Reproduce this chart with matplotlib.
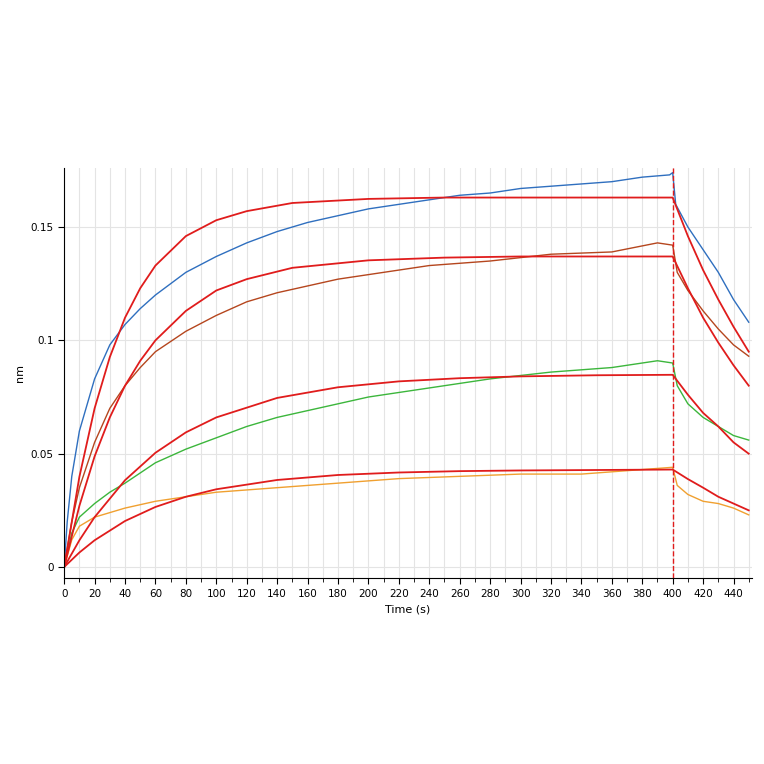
import matplotlib
matplotlib.use("Agg")
import matplotlib.pyplot as plt
from matplotlib.ticker import MultipleLocator, FixedLocator

# fitted curves (time, response)
fit_t = [0, 10, 20, 30, 40, 50, 60, 80, 100, 120, 150, 200, 250, 300, 400, 410, 420, 430, 440, 450]
fit_blue = [0, 0.0398, 0.070, 0.0926, 0.110, 0.123, 0.133, 0.146, 0.153, 0.157, 0.1606, 0.1624, 0.163, 0.163, 0.163, 0.146, 0.131, 0.118, 0.106, 0.095]
fit_brown = [0, 0.027, 0.0488, 0.066, 0.080, 0.091, 0.100, 0.113, 0.122, 0.127, 0.132, 0.1353, 0.1365, 0.137, 0.137, 0.123, 0.110, 0.099, 0.089, 0.080]
fit_t2 = [0, 10, 20, 40, 60, 80, 100, 140, 180, 220, 260, 300, 350, 400, 410, 420, 430, 440, 450]
fit_green = [0, 0.0118, 0.022, 0.0383, 0.0504, 0.0594, 0.066, 0.0746, 0.0793, 0.0819, 0.0833, 0.0841, 0.0846, 0.0848, 0.076, 0.068, 0.062, 0.055, 0.050]
fit_orange = [0, 0.0064, 0.0118, 0.0203, 0.0265, 0.031, 0.0343, 0.0384, 0.0406, 0.0417, 0.0423, 0.0426, 0.0428, 0.043, 0.0388, 0.035, 0.031, 0.028, 0.025]

# measured traces
blue_t = [0, 2, 5, 10, 20, 30, 40, 50, 60, 80, 100, 120, 140, 160, 180, 200, 220, 240, 260, 280, 300, 320, 340, 360, 380, 398, 400, 402, 410, 420, 430, 440, 450]
blue_y = [0, 0.02, 0.04, 0.06, 0.083, 0.098, 0.107, 0.114, 0.12, 0.130, 0.137, 0.143, 0.148, 0.152, 0.155, 0.158, 0.160, 0.162, 0.164, 0.165, 0.167, 0.168, 0.169, 0.170, 0.172, 0.173, 0.174, 0.160, 0.150, 0.140, 0.130, 0.118, 0.108]
brown_t = [0, 5, 10, 20, 30, 40, 50, 60, 80, 100, 120, 140, 160, 180, 200, 240, 280, 320, 360, 390, 400, 403, 410, 420, 430, 440, 450]
brown_y = [0, 0.02, 0.035, 0.055, 0.070, 0.080, 0.088, 0.095, 0.104, 0.111, 0.117, 0.121, 0.124, 0.127, 0.129, 0.133, 0.135, 0.138, 0.139, 0.143, 0.142, 0.130, 0.122, 0.113, 0.105, 0.098, 0.093]
green_t = [0, 5, 10, 20, 30, 40, 60, 80, 100, 120, 140, 160, 180, 200, 240, 280, 320, 360, 390, 400, 403, 410, 420, 430, 440, 450]
green_y = [0, 0.015, 0.022, 0.028, 0.033, 0.037, 0.046, 0.052, 0.057, 0.062, 0.066, 0.069, 0.072, 0.075, 0.079, 0.083, 0.086, 0.088, 0.091, 0.090, 0.080, 0.072, 0.066, 0.062, 0.058, 0.056]
orange_t = [0, 5, 10, 20, 40, 60, 80, 100, 140, 180, 220, 260, 300, 340, 380, 400, 403, 410, 420, 430, 440, 450]
orange_y = [0, 0.012, 0.018, 0.022, 0.026, 0.029, 0.031, 0.033, 0.035, 0.037, 0.039, 0.040, 0.041, 0.041, 0.043, 0.044, 0.036, 0.032, 0.029, 0.028, 0.026, 0.023]

fig = plt.figure(figsize=(7.64, 7.64), dpi=100)
ax = fig.add_axes([0.084, 0.243, 0.900, 0.537])
ax.plot(blue_t, blue_y, color="#2f6fbf", lw=1)
ax.plot(brown_t, brown_y, color="#b5461e", lw=1)
ax.plot(green_t, green_y, color="#3cb63c", lw=1)
ax.plot(orange_t, orange_y, color="#f0a030", lw=1)
for fy, ft in [(fit_blue, fit_t), (fit_brown, fit_t), (fit_green, fit_t2), (fit_orange, fit_t2)]:
    ax.plot(ft, fy, color="#e01c1c", lw=1.3)
ax.axvline(400, color="#e01c1c", ls="--", lw=1)

ax.set_xlim(0, 452)
ax.set_ylim(-0.005, 0.176)
ax.xaxis.set_major_locator(MultipleLocator(20))
ax.xaxis.set_minor_locator(MultipleLocator(10))
ax.yaxis.set_major_locator(FixedLocator([0, 0.05, 0.1, 0.15]))
ax.set_yticklabels(["0", "0.05", "0.1", "0.15"])
ax.grid(True, which="both", axis="x", color="#e4e4e4", lw=0.8)
ax.grid(True, which="major", axis="y", color="#e4e4e4", lw=0.8)
ax.tick_params(labelsize=7.5, length=4)
ax.tick_params(which="minor", length=3)
for s in ["top", "right"]:
    ax.spines[s].set_visible(False)
ax.set_xlabel("Time (s)", fontsize=8)
ax.set_ylabel("nm", fontsize=8)
fig.savefig("out.png", dpi=100)
